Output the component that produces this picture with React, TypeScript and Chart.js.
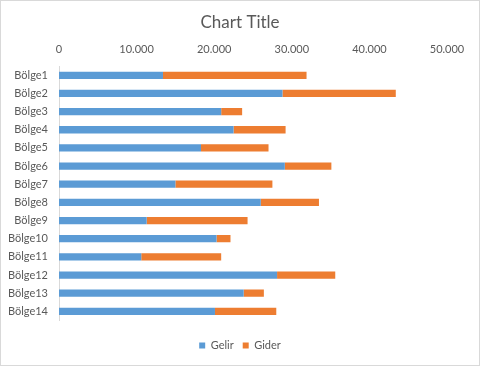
import React, { useEffect, useRef } from "react";
import { Chart, registerables } from "chart.js";

Chart.register(...registerables);

const categories = [
  "Bölge1", "Bölge2", "Bölge3", "Bölge4", "Bölge5", "Bölge6", "Bölge7",
  "Bölge8", "Bölge9", "Bölge10", "Bölge11", "Bölge12", "Bölge13", "Bölge14",
];
const gelir = [13400, 28800, 20900, 22500, 18300, 29100, 15000, 26000, 11300, 20300, 10600, 28100, 23800, 20100];
const gider = [18500, 14600, 2700, 6700, 8700, 6000, 12500, 7500, 13000, 1800, 10300, 7500, 2600, 7900];
const seriesNames = ["Gelir", "Gider"];
const titleText = "Chart Title";

const FONT = "Lato, 'Open Sans', sans-serif";
const TEXT = "#595959";

function fmt(v: number): string {
  return String(v).replace(/\B(?=(\d{3})+(?!\d))/g, ".");
}

export default function App() {
  const ref = useRef<HTMLCanvasElement | null>(null);
  useEffect(() => {
    document.body.style.margin = "0";
    const canvas = ref.current;
    if (!canvas) return;
    const chart = new Chart(canvas, {
      type: "bar",
      data: {
        labels: categories,
        datasets: [
          { label: seriesNames[0], data: gelir, backgroundColor: "#5b9bd5", barPercentage: 0.4, categoryPercentage: 1 },
          { label: seriesNames[1], data: gider, backgroundColor: "#ed7d31", barPercentage: 0.4, categoryPercentage: 1 },
        ],
      },
      options: {
        indexAxis: "y",
        animation: false,
        responsive: false,
        maintainAspectRatio: false,
        layout: { padding: { left: 0, right: 0, top: 0, bottom: 4 } },
        scales: {
          x: {
            type: "linear",
            position: "top",
            stacked: true,
            min: 0,
            max: 50000,
            grid: { display: false, drawTicks: false },
            border: { display: false },
            ticks: {
              stepSize: 10000,
              padding: 10,
              color: TEXT,
              font: { family: FONT, size: 11 },
              maxRotation: 0,
              callback: (v: any) => fmt(Number(v)),
            },
            afterFit: (s: any) => { s.height = 33.8; },
          },
          x2: {
            type: "linear",
            position: "bottom",
            display: true,
            grid: { display: false, drawTicks: false },
            border: { display: false },
            ticks: { display: false },
            afterFit: (s: any) => { s.height = 10.6; },
          },
          y: {
            stacked: true,
            grid: { display: false, drawTicks: false },
            border: { display: true, color: "#d9d9d9", width: 1 },
            ticks: {
              padding: 11,
              color: TEXT,
              font: { family: FONT, size: 11 },
            },
            afterFit: (s: any) => { s.width = 58; },
          },
          y2: {
            type: "linear",
            position: "right",
            display: true,
            grid: { display: false, drawTicks: false },
            border: { display: false },
            ticks: { display: false },
            afterFit: (s: any) => { s.width = 32; },
          },
        },
        plugins: {
          title: {
            display: true,
            text: titleText,
            color: TEXT,
            font: { family: FONT, size: 17, weight: "normal" },
            padding: { top: 11, bottom: 0 },
          },
          legend: {
            position: "bottom",
            labels: {
              boxWidth: 6,
              boxHeight: 6,
              padding: 9,
              color: TEXT,
              font: { family: FONT, size: 11 },
            },
          },
          tooltip: { enabled: false },
        },
      } as any,
    });
    return () => chart.destroy();
  }, []);
  return (
    <div style={{ position: "relative", width: 480, height: 366, boxSizing: "border-box", border: "1px solid #d9d9d9", background: "#fff" }}>
      <canvas ref={ref} width={478} height={364} style={{ display: "block", width: 478, height: 364 }} />
    </div>
  );
}
